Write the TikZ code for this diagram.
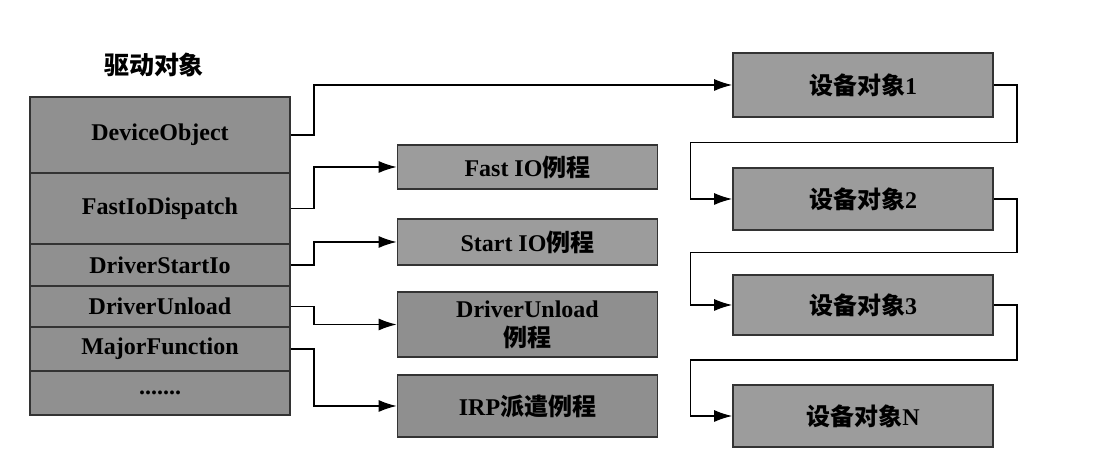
\documentclass[tikz,border=0pt]{standalone}
\usepackage{fontspec}
\setmainfont{Liberation Serif}
\newfontfamily\cjk{Noto Sans CJK SC}
\usetikzlibrary{arrows.meta}
\usetikzlibrary{calc}

\begin{document}
\begin{tikzpicture}[x=0.5pt, y=-0.5pt,
	field/.style={draw=black!80, line width=0.9pt, fill=gray!87, minimum width=130pt, inner sep=0pt, font=\fontsize{12}{14.5}\selectfont\bfseries},
	box/.style={field, fill=gray!78, align=center},
	link/.style={line width=0.6pt, -{Latex[length=9pt, width=6pt]}}]
	\useasboundingbox (0,0) rectangle (1093,469);

	\node[font=\fontsize{12.5}{14}\selectfont\cjk\bfseries] (title) at (154,65) {驱动对象};

	\node[field, minimum height=38pt] (dev) at (160,135) {DeviceObject};
	\node[field, minimum height=35.5pt] (fio) at (160,208.5) {FastIoDispatch};
	\node[field, minimum height=21pt] (sio) at (160,265) {DriverStartIo};
	\node[field, minimum height=20.5pt] (unl) at (160,306.5) {DriverUnload};
	\node[field, minimum height=22pt] (maj) at (160,349) {MajorFunction};
	\node[field, minimum height=22pt] (more) at (160,393) {.......};

	\node[box, minimum height=22pt] (fast) at (527.5,167) {Fast IO{\cjk 例程}};
	\node[box, minimum height=23pt] (start) at (527.5,242) {Start IO{\cjk 例程}};
	\node[box, minimum height=32.5pt, fill=gray!88] (unload) at (527.5,324.5) {DriverUnload\\{\cjk 例程}};
	\node[box, minimum height=31pt, fill=gray!88] (irp) at (527.5,406) {IRP{\cjk 派遣例程}};

	\node[box, minimum height=32pt] (d1) at (863,85) {{\cjk 设备对象}1};
	\node[box, minimum height=31pt] (d2) at (863,199) {{\cjk 设备对象}2};
	\node[box, minimum height=30pt] (d3) at (863,305) {{\cjk 设备对象}3};
	\node[box, minimum height=31pt] (dN) at (863,416) {{\cjk 设备对象}N};

	\foreach \a/\b in {dev/d1, fio/fast, sio/start, unl/unload, maj/irp}
		\draw[link] (\a.east) -- ++(23,0) |- (\b.west);

	\foreach \a/\b in {d1/d2, d2/d3, d3/dN}
		\draw[link] (\a.east) -- ++(23,0) |- ($(\a.south)!.5!(\b.north)$) -| ([xshift=-21pt]\b.west) -- (\b.west);
\end{tikzpicture}
\end{document}
